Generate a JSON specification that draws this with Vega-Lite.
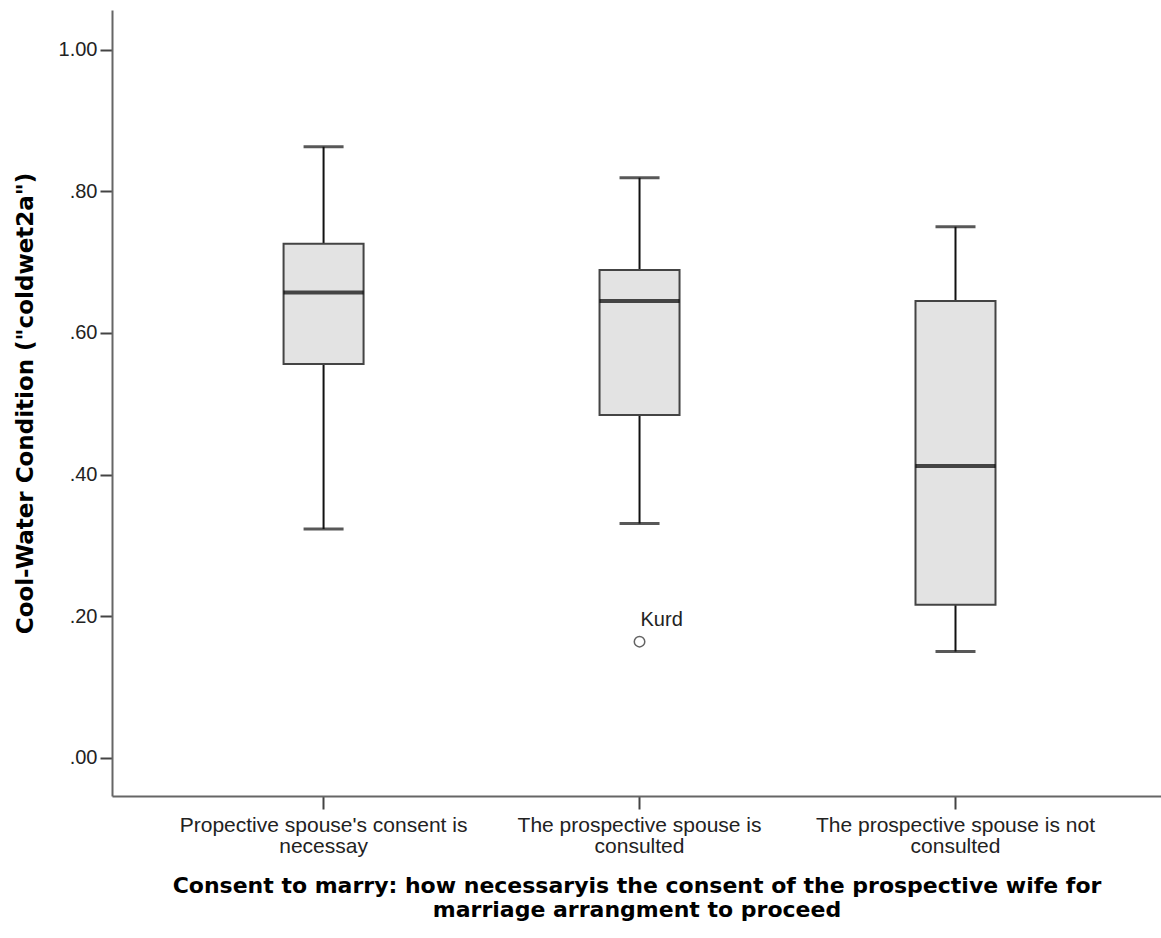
{
  "$schema": "https://vega.github.io/schema/vega-lite/v6.json",
  "autosize": {"type": "none"},
  "width": 1049,
  "height": 786,
  "padding": {"left": 112, "top": 10, "right": 0, "bottom": 142},
  "background": "white",
  "config": {
    "view": {"stroke": null},
    "font": "Liberation Sans"
  },
  "datasets": {
    "boxes": [
      {"category": "Propective spouse's consent is necessay", "lo": 0.323, "q1": 0.556, "median": 0.657, "q3": 0.726, "hi": 0.863},
      {"category": "The prospective spouse is consulted", "lo": 0.331, "q1": 0.484, "median": 0.645, "q3": 0.689, "hi": 0.819},
      {"category": "The prospective spouse is not consulted", "lo": 0.150, "q1": 0.216, "median": 0.412, "q3": 0.645, "hi": 0.750}
    ],
    "outliers": [
      {"category": "The prospective spouse is consulted", "value": 0.164, "label": "Kurd"}
    ]
  },
  "encoding": {
    "x": {
      "field": "category",
      "type": "nominal",
      "sort": null,
      "scale": {
        "type": "band",
        "domain": ["Propective spouse's consent is necessay", "The prospective spouse is consulted", "The prospective spouse is not consulted"],
        "paddingInner": 0,
        "paddingOuter": 0.16,
        "align": 0.53
      },
      "axis": {
        "title": ["Consent to marry: how necessaryis the consent of the prospective wife for", "marriage arrangment to proceed"],
        "titleFont": "DejaVu Sans",
        "titleFontSize": 22,
        "titleFontWeight": "bold",
        "titleColor": "#000",
        "titlePadding": 19,
        "titleLineHeight": 24,
        "labelAngle": 0,
        "labelFontSize": 21,
        "labelColor": "#222",
        "labelPadding": 5,
        "labelLineHeight": 21,
        "labelLimit": 0,
        "labelExpr": "[substring(datum.label, 0, lastindexof(datum.label, ' ')), substring(datum.label, lastindexof(datum.label, ' ') + 1)]",
        "domainColor": "#666",
        "domainWidth": 2,
        "tickColor": "#444",
        "tickWidth": 2,
        "tickSize": 13,
        "grid": false
      }
    }
  },
  "layer": [
    {
      "data": {"name": "boxes"},
      "mark": {"type": "rule", "color": "#111", "strokeWidth": 2},
      "encoding": {
        "y": {
          "field": "lo",
          "type": "quantitative",
          "scale": {"domain": [-0.054, 1.056], "nice": false, "zero": false},
          "axis": {
            "title": "Cool-Water Condition (\"coldwet2a\")",
            "titleFont": "DejaVu Sans",
            "titleFontSize": 23,
            "titleFontWeight": "bold",
            "titleColor": "#000",
            "titlePadding": 21,
            "values": [0, 0.2, 0.4, 0.6, 0.8, 1.0],
            "labelExpr": "replace(format(datum.value, '.2f'), '0.', '.')",
            "labelFontSize": 20,
            "labelColor": "#222",
            "labelPadding": 3,
            "domainColor": "#666",
            "domainWidth": 2,
            "tickColor": "#444",
            "tickWidth": 2,
            "tickSize": 12,
            "grid": false
          }
        },
        "y2": {"field": "hi"}
      }
    },
    {
      "data": {"name": "boxes"},
      "mark": {"type": "tick", "color": "#111", "size": 40, "thickness": 3},
      "encoding": {"y": {"field": "lo", "type": "quantitative"}}
    },
    {
      "data": {"name": "boxes"},
      "mark": {"type": "tick", "color": "#111", "size": 40, "thickness": 3},
      "encoding": {"y": {"field": "hi", "type": "quantitative"}}
    },
    {
      "data": {"name": "boxes"},
      "mark": {"type": "bar", "width": 80, "fill": "#e3e3e3", "stroke": "#444", "strokeWidth": 2},
      "encoding": {
        "y": {"field": "q1", "type": "quantitative"},
        "y2": {"field": "q3"}
      }
    },
    {
      "data": {"name": "boxes"},
      "mark": {"type": "tick", "color": "#000", "size": 80, "thickness": 4},
      "encoding": {"y": {"field": "median", "type": "quantitative"}}
    },
    {
      "data": {"name": "outliers"},
      "mark": {"type": "point", "shape": "circle", "filled": false, "size": 110, "stroke": "#222", "strokeWidth": 1.5},
      "encoding": {"y": {"field": "value", "type": "quantitative"}}
    },
    {
      "data": {"name": "outliers"},
      "mark": {"type": "text", "align": "left", "baseline": "middle", "dx": 1, "dy": -22, "fontSize": 20, "color": "#222"},
      "encoding": {
        "y": {"field": "value", "type": "quantitative"},
        "text": {"field": "label"}
      }
    }
  ]
}
